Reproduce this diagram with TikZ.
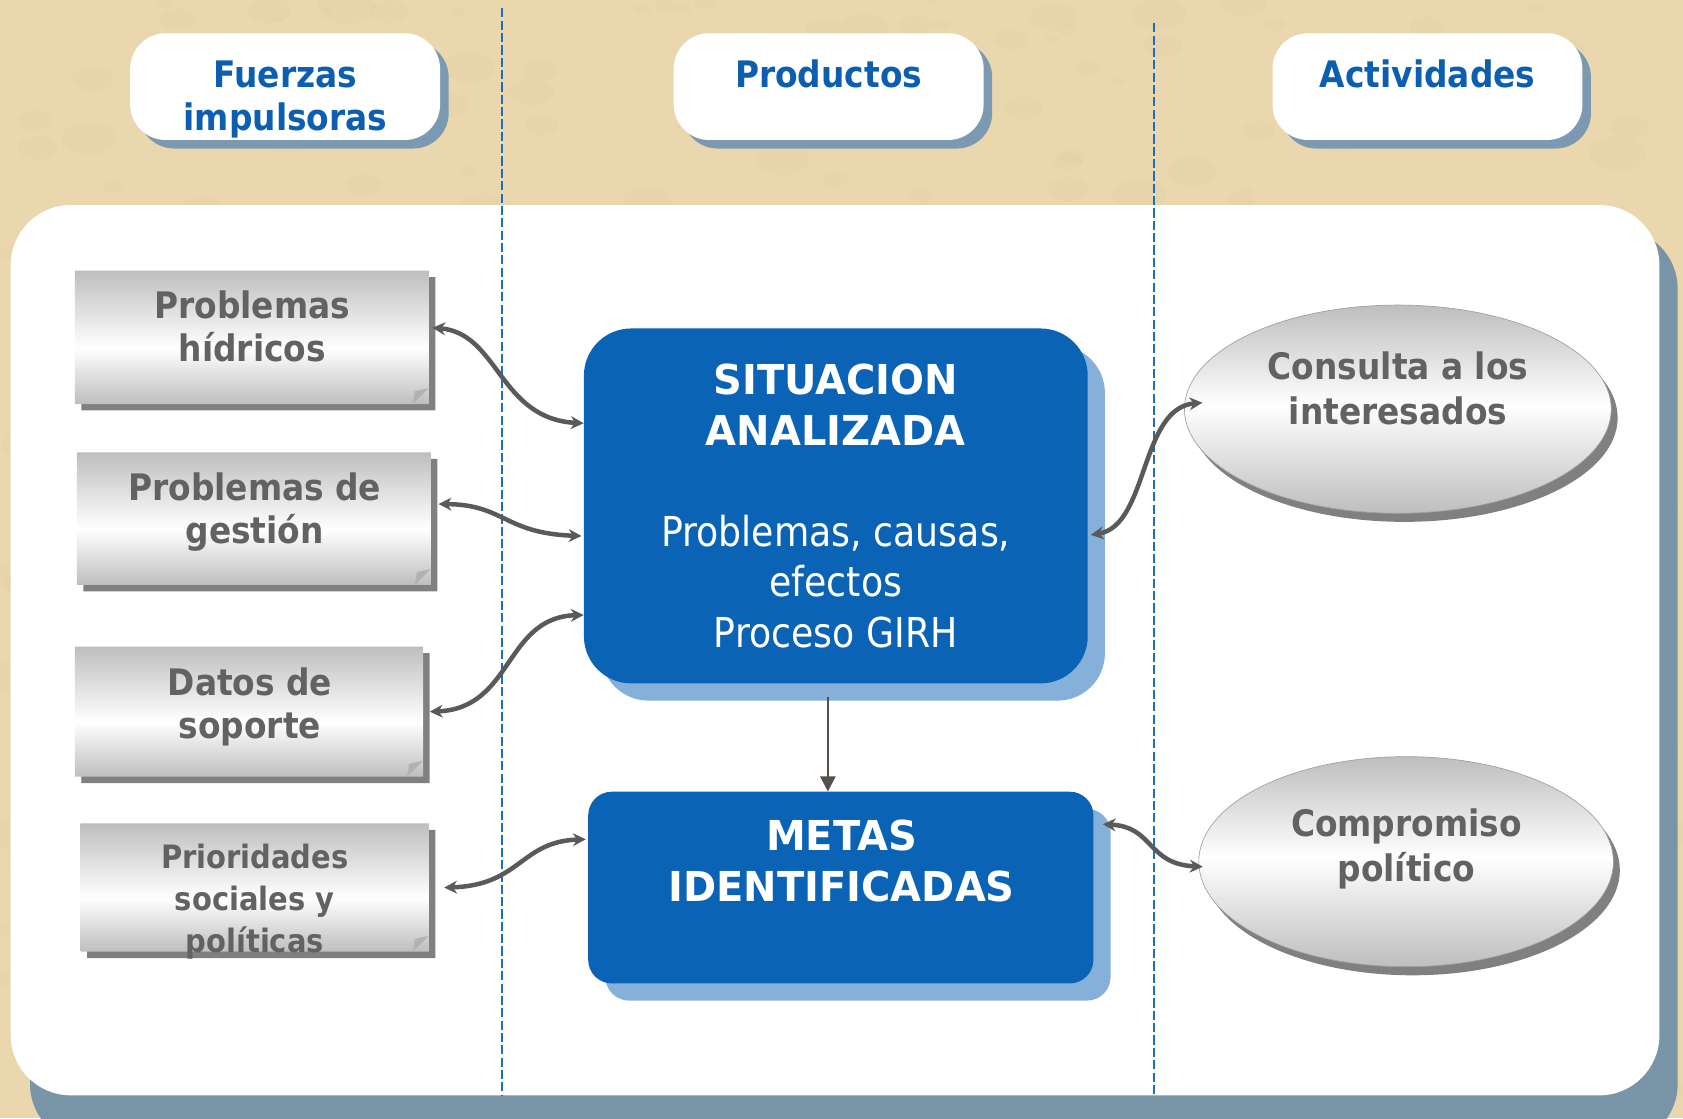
\documentclass[tikz,border=0pt]{standalone}
\usepackage{fontspec}
\setmainfont{DejaVu Sans}
\newfontfamily\tahb[FakeStretch=0.9]{DejaVu Sans}
\newfontfamily\tahc[FakeStretch=0.97]{DejaVu Sans}
\newfontfamily\tahr[FakeStretch=0.88]{DejaVu Sans}
\usetikzlibrary{arrows.meta,shapes.geometric,shapes.misc,shadows}
\definecolor{bgtan}{HTML}{EAD7AD}
\definecolor{bgdark}{HTML}{C9AE78}
\definecolor{panelsh}{HTML}{7894A7}
\definecolor{pillsh}{HTML}{7B9AB2}
\definecolor{headblue}{HTML}{0C5FB0}
\definecolor{dashblue}{HTML}{1D6DC0}
\definecolor{boxblue}{HTML}{0A63B4}
\definecolor{blueshadow}{HTML}{85B0DA}
\definecolor{graytxt}{HTML}{626262}
\definecolor{boxsh}{HTML}{808080}
\definecolor{gtop}{HTML}{BEBEBE}
\definecolor{conn}{HTML}{5A5A5A}
\definecolor{darrow}{HTML}{56504A}
\pgfdeclareverticalshading{boxband}{100bp}{color(0bp)=(gtop); color(25bp)=(gtop); color(46bp)=(white); color(75bp)=(gtop); color(100bp)=(gtop)}
\pgfdeclareverticalshading{ellband}{100bp}{color(0bp)=(gtop); color(25bp)=(gtop); color(51bp)=(white); color(75bp)=(gtop); color(100bp)=(gtop)}
\tikzset{
  pill/.style={rectangle, rounded corners=33pt, fill=white, minimum width=288.7pt, minimum height=99.4pt, inner sep=0pt,
    drop shadow={shadow xshift=8pt, shadow yshift=-8pt, opacity=1, fill=pillsh}},
  headtxt/.style={text=headblue, font=\tahb\bfseries\fontsize{34}{40}\selectfont, align=center, inner sep=0pt},
  note/.style={chamfered rectangle, chamfered rectangle corners=south east, chamfered rectangle xsep=15pt,
    chamfered rectangle ysep=15pt, shading=boxband, inner sep=0pt,
    drop shadow={shadow xshift=6pt, shadow yshift=-6pt, opacity=1, fill=boxsh}},
  notetxt/.style={text=graytxt, font=\tahb\bfseries\fontsize{34}{40}\selectfont, align=center, inner sep=0pt},
  fold/.style={fill=gray!60},
  bluebox/.style={rectangle, fill=boxblue, inner sep=0pt, text=white, align=center,
    drop shadow={shadow xshift=16pt, shadow yshift=-16pt, opacity=1, fill=blueshadow}},
  oval/.style={ellipse, shading=ellband, draw=gray!75, line width=0.6pt, inner sep=0pt,
    drop shadow={shadow xshift=6pt, shadow yshift=-8pt, opacity=1, fill=boxsh}},
  divider/.style={dashblue, line width=2pt, dash pattern=on 8.5pt off 3pt},
  link/.style={conn, line width=4.2pt, {Stealth[length=12pt,width=12pt]}-{Stealth[length=12pt,width=12pt]}},
  down/.style={darrow, line width=2.2pt, -{Triangle[length=14pt,width=14pt]}}
}
\begin{document}
\begin{tikzpicture}[x=1pt,y=-1pt]
\clip (0,0) rectangle (1568,1042);
% background
\fill[bgtan] (0,0) rectangle (1568,1042);
\pgfmathsetseed{11}
\foreach \i in {1,...,400}{
  \pgfmathsetmacro\xx{rnd*1568}
  \pgfmathsetmacro\yy{rnd*1042}
  \pgfmathsetmacro\rr{5+rnd*22}
  \fill[bgdark, opacity=0.05] (\xx,\yy) ellipse [x radius=\rr, y radius=0.6*\rr];
}
% main panel
\fill[panelsh, rounded corners=56pt] (28,213) rectangle (1563,1066);
\fill[white, rounded corners=56pt] (10,191) rectangle (1546,1020.5);
% column dividers
\draw[divider] (467.5,7.8) -- (467.5,1020.5);
\draw[divider] (1075.1,21.7) -- (1075.1,1020.5);
% header pills
\node[pill] (pF) at (265.65,80.7) {};
\node[pill] (pP) at (772.05,80.7) {};
\node[pill] (pA) at (1329.9,80.7) {};
\node[headtxt] (tF) at (266,92.5) {Fuerzas\\impulsoras};
\node[headtxt, anchor=base] (tP) at (772,81.4) {Productos};
\node[headtxt, anchor=base] (tA) at (1330,81.4) {Actividades};
% left notes
\node[note, minimum width=329.8pt, minimum height=124.2pt] (b1) at (234.7,314.3) {};
\node[note, minimum width=329.8pt, minimum height=123.6pt] (b2) at (236.5,483.2) {};
\node[note, minimum width=324.4pt, minimum height=121.1pt] (b3) at (232,663.05) {};
\node[note, minimum width=324.5pt, minimum height=119.6pt] (b4) at (237.35,826.9) {};
\foreach \n in {b1,b2,b3,b4}{
  \fill[fold] ([yshift=15pt]\n.south east) -- ([xshift=-15pt]\n.south east) -- ([xshift=-13pt,yshift=12pt]\n.south east) -- cycle;
}
\node[notetxt] (t1) at (235,304.4) {Problemas\\hídricos};
\node[notetxt] (t2) at (237.3,477.2) {Problemas de\\gestión};
\node[notetxt] (t3) at (232.9,658.8) {Datos de\\soporte};
\node[notetxt, font=\tahb\bfseries\fontsize{30}{39}\selectfont] (t4) at (237.4,840) {Prioridades\\sociales y\\políticas};
% blue boxes
\node[bluebox, rounded corners=44pt, minimum width=469.4pt, minimum height=330.7pt,
  font=\fontsize{38.4}{47}\selectfont] (sit) at (778.7,471.35)
  {\tahc\bfseries SITUACION\\\tahc\bfseries ANALIZADA\\[47pt]\tahr Problemas, causas,\\\tahr efectos\\\tahr Proceso GIRH};
\node[bluebox, rounded corners=22pt, minimum width=470.7pt, minimum height=178.6pt] (metas) at (783.35,826.9) {};
\node[text=white, align=center, inner sep=0pt, font=\tahc\bfseries\fontsize{38.4}{48}\selectfont] (tm) at (784.1,802) {METAS\\IDENTIFICADAS};
% ovals
\node[oval, minimum width=397.6pt, minimum height=194pt] (c1) at (1302.3,381.2) {};
\node[oval, minimum width=386.3pt, minimum height=195.7pt] (c2) at (1310,802.8) {};
\node[notetxt, font=\tahb\bfseries\fontsize{34}{42}\selectfont] (tc1) at (1302.5,362.1) {Consulta a los\\interesados};
\node[notetxt, font=\tahb\bfseries\fontsize{34}{42}\selectfont] (tc2) at (1310.3,790.5) {Compromiso\\político};
% connectors
\draw[link] ([xshift=3pt,yshift=9pt]b1.east) .. controls +(62,5) and +(-79,-4) .. ([yshift=77pt]sit.west);
\draw[link] ([xshift=7pt,yshift=13.6pt]b2.east) .. controls +(61.5,0.4) and +(-72.3,-2.4) .. ([xshift=-2pt,yshift=-28pt]sit.west);
\draw[link] ([yshift=-101.6pt]sit.west) .. controls +(-74,2) and +(78,-3) .. ([xshift=6pt]b3.east);
\draw[link] ([xshift=-2pt,yshift=45pt]metas.west) .. controls +(-61,2) and +(71,-2) .. ([xshift=14pt]b4.east);
\draw[link] ([xshift=2.6pt,yshift=-27pt]sit.east) .. controls +(54,-8.5) and +(-58.5,4.8) .. ([xshift=17pt,yshift=6pt]c1.west);
\draw[link] ([xshift=8.5pt,yshift=59pt]metas.east) .. controls +(48,2.3) and +(-52.5,-2.5) .. ([xshift=4pt,yshift=-4.7pt]c2.west);
\draw[down] ([xshift=-7.4pt,yshift=-12pt]sit.south) -- ([xshift=-7.4pt]sit.south |- metas.north);
\end{tikzpicture}
\end{document}
